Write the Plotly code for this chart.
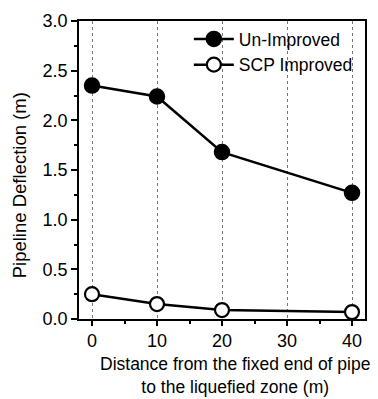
import plotly.graph_objects as go

# Distance from the fixed end of the pipe to the liquefied zone (m)
distance = [0, 10, 20, 40]
# Pipeline deflection (m)
unimproved = [2.35, 2.24, 1.68, 1.27]
scp_improved = [0.25, 0.15, 0.09, 0.07]

x_ticks = [0, 10, 20, 30, 40]
y_ticks = [0.0, 0.5, 1.0, 1.5, 2.0, 2.5, 3.0]

font_family = "Liberation Sans, Arial, sans-serif"

fig = go.Figure()
fig.add_trace(go.Scatter(
    x=distance, y=unimproved, name="Un-Improved", mode="lines+markers",
    line=dict(color="black", width=2.5),
    marker=dict(symbol="circle", size=15, color="black",
                line=dict(color="black", width=1.5)),
))
fig.add_trace(go.Scatter(
    x=distance, y=scp_improved, name="SCP Improved", mode="lines+markers",
    line=dict(color="black", width=2.5),
    marker=dict(symbol="circle", size=14, color="white",
                line=dict(color="black", width=2.2)),
))

fig.update_layout(
    width=378, height=399,
    margin=dict(l=79, r=11, t=16, b=80),
    paper_bgcolor="white", plot_bgcolor="white",
    font=dict(family=font_family, color="black", size=18),
    showlegend=True,
    legend=dict(x=0.975, y=1.0, xanchor="right", yanchor="top",
                bgcolor="rgba(0,0,0,0)", font=dict(size=17.5),
                itemwidth=40, tracegroupgap=0),
    xaxis=dict(
        range=[-2, 42], tickmode="array", tickvals=x_ticks,
        ticks="outside", ticklen=5, tickwidth=1.5, tickcolor="black",
        minor=dict(ticks="outside", ticklen=3, dtick=5, tick0=0,
                   tickcolor="black", showgrid=False),
        showline=True, linecolor="black", linewidth=1.5, mirror=True,
        showgrid=True, gridcolor="#777777", griddash="dot", gridwidth=1,
        zeroline=False,
        tickfont=dict(size=18),
    ),
    yaxis=dict(
        range=[0, 3.0], tickmode="array", tickvals=y_ticks,
        tickformat=".1f",
        ticks="outside", ticklen=6, tickwidth=1.5, tickcolor="black",
        minor=dict(ticks="outside", ticklen=3, dtick=0.25, tick0=0,
                   tickcolor="black", showgrid=False),
        showline=True, linecolor="black", linewidth=1.5, mirror=True,
        showgrid=False, zeroline=False,
        tickfont=dict(size=18),
    ),
    annotations=[
        dict(text="Distance from the fixed end of pipe<br>to the liquefied zone (m)",
             xref="paper", yref="paper", x=0.545, y=-0.112, xanchor="center",
             yanchor="top", showarrow=False, font=dict(size=17.5)),
        dict(text="Pipeline Deflection (m)", textangle=-90,
             xref="paper", yref="paper", x=-0.205, y=0.45, xanchor="center",
             yanchor="middle", showarrow=False, font=dict(size=18.5)),
    ],
)

fig.write_html("out.html")
